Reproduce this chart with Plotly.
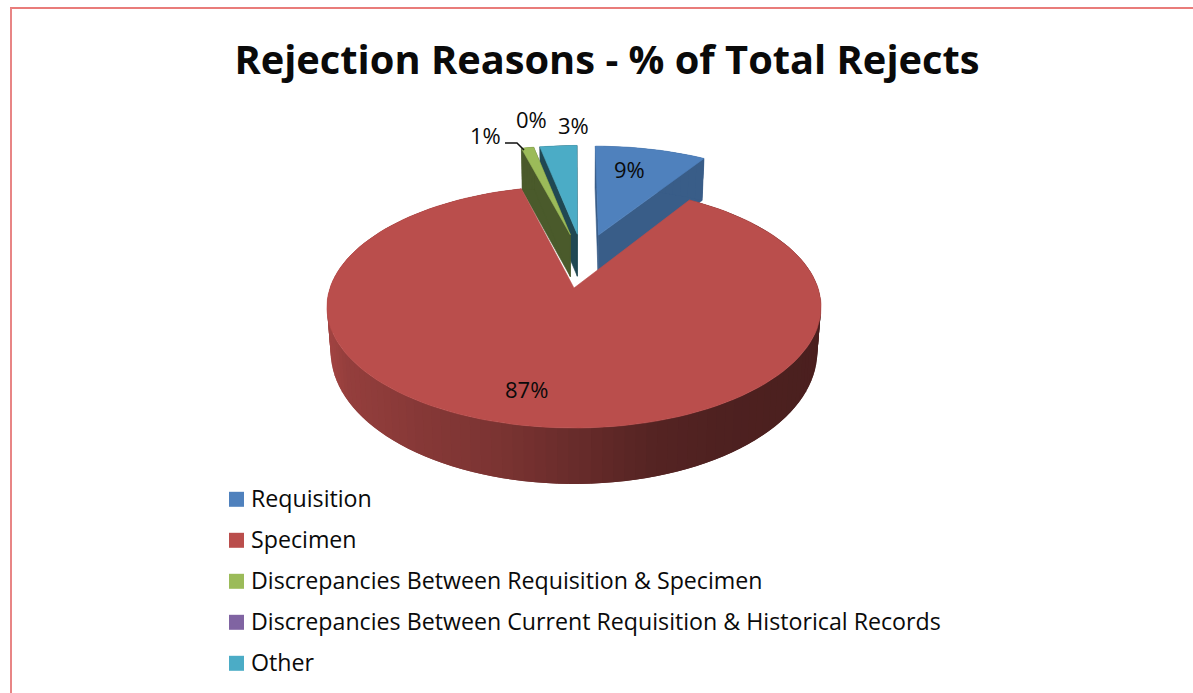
import numpy as np
import plotly.graph_objects as go

# Chart content
title_text = "Rejection Reasons - % of Total Rejects"
categories = [
    "Requisition",
    "Specimen",
    "Discrepancies Between Requisition & Specimen",
    "Discrepancies Between Current Requisition & Historical Records",
    "Other",
]
percent_values = [9, 87, 1, 0, 3]

# Styling per category
top_colors = ["#4F81BD", "#BA4E4C", "#9BBB59", "#8064A2", "#4BACC6"]
wall_shades = [0.72, 1.0, 0.48, 0.5, 0.42]
explode = [0.25, 0.245, 0.25, 0.25, 0.25]
label_positions = [(629, 169), (526, 389), (485, 135), (531, 119), (573, 125)]
draw_order = [0, 4, 2, 1]

# Projection of the pie's tilted plane
CENTER_X, CENTER_Y = 574.0, 288.0
SCALE_U, SCALE_V, FORESHORTEN = 244.0, 118.0, 0.157
DEPTH_BASE, DEPTH_FRONT, BASE_SHRINK = 42.0, 14.0, 0.985

# Key column next to the pie
KEY_X, KEY_TEXT_X, KEY_TOP_Y, KEY_STEP_Y = 236.5, 251.0, 499.3, 41.0

FONT = "Open Sans, sans-serif"
TEXT = "#0a0a0a"


def project(u, v, lower=False):
    u, v = np.asarray(u, float), np.asarray(v, float)
    w = 1 + FORESHORTEN * v
    x = CENTER_X + SCALE_U * u / w
    y = CENTER_Y - SCALE_V * v / w
    if lower:
        x = CENTER_X + (x - CENTER_X) * BASE_SHRINK
        y = y + DEPTH_BASE + DEPTH_FRONT * np.maximum(0, -v)
    return x, y


def shade(color, factor):
    r, g, b = (int(color[i:i + 2], 16) for i in (1, 3, 5))
    return f"rgb({r * factor:.0f},{g * factor:.0f},{b * factor:.0f})"


def wall_factor(x):
    return np.interp(x, [330, 345, 420, 500, 575, 650, 720, 820],
                     [0.86, 0.80, 0.72, 0.66, 0.56, 0.46, 0.42, 0.40])


def polygon(xs, ys, color, outline=0.6):
    return go.Scatter(x=list(xs) + [xs[0]], y=list(ys) + [ys[0]], mode="lines",
                      fill="toself", fillcolor=color,
                      line=dict(color=color, width=outline),
                      hoverinfo="skip", showlegend=False)


total = sum(percent_values)
edges = np.concatenate([[0], np.cumsum(percent_values)]) / total * 2 * np.pi
mid_angles = (edges[:-1] + edges[1:]) / 2
origin_u = explode[1] * np.sin(mid_angles[1])
origin_v = explode[1] * np.cos(mid_angles[1])

fig = go.Figure()

for i in draw_order:
    a0, a1 = edges[i], edges[i + 1]
    # Slice apex, measured from the apex of the largest slice
    cu = explode[i] * np.sin(mid_angles[i]) - origin_u
    cv = explode[i] * np.cos(mid_angles[i]) - origin_v
    steps = max(8, int(percent_values[i] * 1.6))
    angles = np.linspace(a0, a1, steps + 1)
    rim_u = cu + np.sin(angles)
    rim_v = cv + np.cos(angles)
    base = top_colors[i]

    # Radial faces, then the outer wall, then the top surface
    if i != 1:
        wall = shade(base, wall_shades[i])
        for a_edge in (a0, a1):
            eu, ev = cu + np.sin(a_edge), cv + np.cos(a_edge)
            tx, ty = project([cu, eu], [cv, ev])
            bx, by = project([cu, eu], [cv, ev], lower=True)
            fig.add_trace(polygon([tx[0], tx[1], bx[1], bx[0]],
                                  [ty[0], ty[1], by[1], by[0]], wall))
    tx, ty = project(rim_u, rim_v)
    bx, by = project(rim_u, rim_v, lower=True)
    for k in range(steps):
        # Each strip overlaps the next one so no seams show between them
        n = min(k + 2, steps)
        xm = (tx[k] + tx[k + 1]) / 2
        f = wall_factor(xm) if i == 1 else wall_shades[i]
        fig.add_trace(polygon([tx[k], tx[n], bx[n], bx[k]],
                              [ty[k], ty[n], by[n], by[k]], shade(base, f), outline=0))
    ax, ay = project([cu], [cv])
    fig.add_trace(polygon(np.r_[ax, tx], np.r_[ay, ty], base))

# Category key: a square swatch and a name for each category
for j, (name, color) in enumerate(zip(categories, top_colors)):
    row_y = KEY_TOP_Y + j * KEY_STEP_Y
    fig.add_trace(go.Scatter(x=[KEY_X], y=[row_y], mode="markers", name=name,
                             marker=dict(symbol="square", size=15, color=color),
                             showlegend=False, hoverinfo="name"))

annotations = [
    dict(x=KEY_TEXT_X, y=KEY_TOP_Y + j * KEY_STEP_Y, text=name, showarrow=False,
         xref="x", yref="y", xanchor="left", yanchor="middle",
         xshift=-2, yshift=1, font=dict(family=FONT, size=23.2, color=TEXT))
    for j, name in enumerate(categories)
]

# Percentage labels on the slices
annotations += [
    dict(x=x, y=y, text=f"{v}%", showarrow=False, xref="x", yref="y",
         font=dict(family=FONT, size=22, color=TEXT))
    for (x, y), v in zip(label_positions, percent_values)
]

fig.update_layout(
    width=1193, height=693,
    margin=dict(l=0, r=0, t=0, b=0, autoexpand=False),
    paper_bgcolor="white", plot_bgcolor="white",
    title=dict(text=f"<b>{title_text}</b>", x=607 / 1193, y=1 - 60 / 693,
               xanchor="center", yanchor="middle",
               font=dict(family=FONT, size=39.8, color=TEXT)),
    xaxis=dict(range=[0, 1193], visible=False, fixedrange=True),
    yaxis=dict(range=[693, 0], visible=False, fixedrange=True),
    showlegend=False,
    annotations=annotations,
    shapes=[
        # Chart frame: top and left rules
        dict(type="line", xref="x", yref="y", x0=10, x1=1193, y0=8, y1=8,
             line=dict(color="#E2504E", width=1.5), layer="below"),
        dict(type="line", xref="x", yref="y", x0=11, x1=11, y0=8, y1=693,
             line=dict(color="#E88585", width=2), layer="below"),
        # Leader line for the small slice
        dict(type="path", xref="x", yref="y", path="M 505 143 L 517 143 L 524 150",
             line=dict(color="#111111", width=1.5)),
    ],
)

fig.write_html("out.html")
